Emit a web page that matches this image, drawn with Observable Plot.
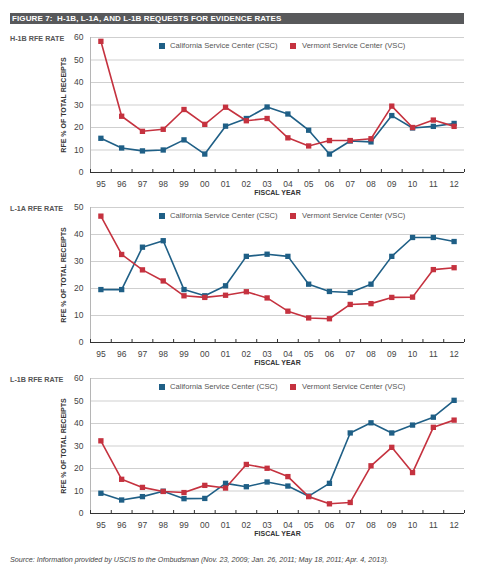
<!DOCTYPE html>
<html>
<head>
<meta charset="utf-8">
<script src="https://cdn.jsdelivr.net/npm/d3@7"></script>
<script src="https://cdn.jsdelivr.net/npm/@observablehq/plot@0.6"></script>
<style>
  html, body { margin: 0; padding: 0; background: #fff; }
  body { width: 479px; height: 570px; position: relative; font-family: "Liberation Sans", Arial, sans-serif; overflow: hidden; }
  .titlebar { position: absolute; left: 10px; top: 13px; width: 454px; height: 11px; background: #58595b; color: #fff;
    font-weight: bold; font-size: 8px; line-height: 11px; padding-left: 2px; box-sizing: border-box; letter-spacing: 0.1px; white-space: nowrap; }
  .panel { position: absolute; left: 0; width: 479px; height: 168px; }
  .panel svg { position: absolute; left: 0; top: 0; }
  .plabel { position: absolute; left: 10px; font-weight: bold; font-size: 7.2px; color: #555; white-space: nowrap; line-height: 10px; }
  .legend { position: absolute; top: 13px; left: 0; font-size: 7.6px; color: #555; line-height: 10px; white-space: nowrap; }
  .legend .sw { position: absolute; width: 6px; height: 6px; top: 2px; }
  .legend .tx { position: absolute; top: 0; }
  .source { position: absolute; left: 10px; top: 555px; font-style: italic; font-size: 7.2px; color: #444; white-space: nowrap; }
  [aria-label="x-axis label"] text, [aria-label="y-axis label"] text, text[aria-label="x-axis label"], text[aria-label="y-axis label"],
  g[aria-label="x-axis label"], g[aria-label="y-axis label"] { font-weight: bold; font-size: 7px; fill: #333; }
</style>
</head>
<body>
<div class="titlebar">FIGURE 7:&nbsp; H-1B, L-1A, AND L-1B REQUESTS FOR EVIDENCE RATES</div>
<div id="root"></div>
<div class="source">Source: Information provided by USCIS to the Ombudsman (Nov. 23, 2009; Jan. 26, 2011; May 18, 2011; Apr. 4, 2013).</div>
<script>
const years = ["95","96","97","98","99","00","01","02","03","04","05","06","07","08","09","10","11","12"];
const seriesNames = ["California Service Center (CSC)", "Vermont Service Center (VSC)"];
const seriesColors = ["#1f5f86", "#c5323f"];
const panelTitles = ["H-1B RFE RATE", "L-1A RFE RATE", "L-1B RFE RATE"];
const panelMax = [60, 50, 60];

const h1bCSC = [15.2, 10.9, 9.6, 10, 14.5, 8.2, 20.6, 24, 29.1, 26, 18.8, 8.2, 14, 13.6, 25.3, 19.8, 20.5, 21.8];
const h1bVSC = [58.3, 25, 18.3, 19.2, 28, 21.4, 29, 23, 24, 15.4, 11.8, 14.2, 14.2, 15, 29.5, 20, 23.3, 20.5];
const l1aCSC = [19.6, 19.6, 35.3, 37.7, 19.6, 17.3, 21, 31.9, 32.7, 31.9, 21.6, 18.9, 18.5, 21.6, 31.9, 38.9, 38.9, 37.4];
const l1aVSC = [46.8, 32.6, 26.9, 22.8, 17.3, 16.7, 17.5, 18.8, 16.5, 11.6, 9.1, 8.8, 14.1, 14.4, 16.7, 16.8, 27, 27.7];
const l1bCSC = [9, 6, 7.5, 9.9, 6.6, 6.7, 13.4, 11.9, 14, 12.2, 7.7, 13.4, 35.8, 40.3, 35.8, 39.3, 42.8, 50.3];
const l1bVSC = [32.3, 15.2, 11.6, 9.8, 9.3, 12.5, 11.3, 21.8, 20.1, 16.4, 7.5, 4.3, 4.9, 21.2, 29.4, 18.2, 38.3, 41.5];

const panelData = [[h1bCSC, h1bVSC], [l1aCSC, l1aVSC], [l1bCSC, l1bVSC]];
const panelTops = [28, 198, 369];

const idx = years.map((_, i) => i);
const bounds = d3.range(years.length + 1).map(i => i - 0.5);

function makePlot(series, ymax) {
  const data = [];
  series.forEach((vals, s) => vals.forEach((v, i) => data.push({i, v, s: seriesNames[s]})));
  const yt = d3.range(0, ymax + 1, 10);
  return Plot.plot({
    width: 479, height: 168,
    marginLeft: 90, marginRight: 15, marginTop: 9, marginBottom: 24,
    style: {fontFamily: "Liberation Sans, Arial, sans-serif", fontSize: "8.5px", color: "#444", background: "transparent", overflow: "visible"},
    x: {domain: [-0.5, years.length - 0.5]},
    y: {domain: [0, ymax]},
    color: {domain: seriesNames, range: seriesColors},
    marks: [
      Plot.gridY(yt, {stroke: "#cfcfcf", strokeOpacity: 1}),
      Plot.ruleX([-0.5], {stroke: "#b5b5b5"}),
      Plot.axisY({ticks: yt, tickSize: 0, tickPadding: 7, label: "RFE % OF TOTAL RECEIPTS", labelAnchor: "center", labelOffset: 29, labelArrow: false}),
      Plot.axisX({ticks: idx, tickFormat: i => years[i], tickSize: 0, tickPadding: 8, label: "FISCAL YEAR", labelAnchor: "center", labelOffset: 22, labelArrow: false}),
      Plot.axisX({ticks: bounds, tickFormat: () => "", tickSize: -3, label: null, stroke: "#333"}),
      Plot.ruleY([0], {stroke: "#333"}),
      Plot.lineY(data, {x: "i", y: "v", z: "s", stroke: "s", strokeWidth: 1.6}),
      Plot.dot(data, {x: "i", y: "v", fill: "s", symbol: "square", r: 3})
    ]
  });
}

const root = document.getElementById("root");
panelData.forEach((series, p) => {
  const div = document.createElement("div");
  div.className = "panel";
  div.style.top = panelTops[p] + "px";
  div.appendChild(makePlot(series, panelMax[p]));
  const lab = document.createElement("div");
  lab.className = "plabel";
  lab.style.top = "6px";
  lab.textContent = panelTitles[p];
  div.appendChild(lab);
  const leg = document.createElement("div");
  leg.className = "legend";
  const swX = [159, 290], txX = [170, 302];
  seriesNames.forEach((n, s) => {
    const sw = document.createElement("div");
    sw.className = "sw"; sw.style.left = swX[s] + "px"; sw.style.background = seriesColors[s];
    const tx = document.createElement("div");
    tx.className = "tx"; tx.style.left = txX[s] + "px"; tx.textContent = n;
    leg.appendChild(sw); leg.appendChild(tx);
  });
  div.appendChild(leg);
  root.appendChild(div);
});
</script>
</body>
</html>
